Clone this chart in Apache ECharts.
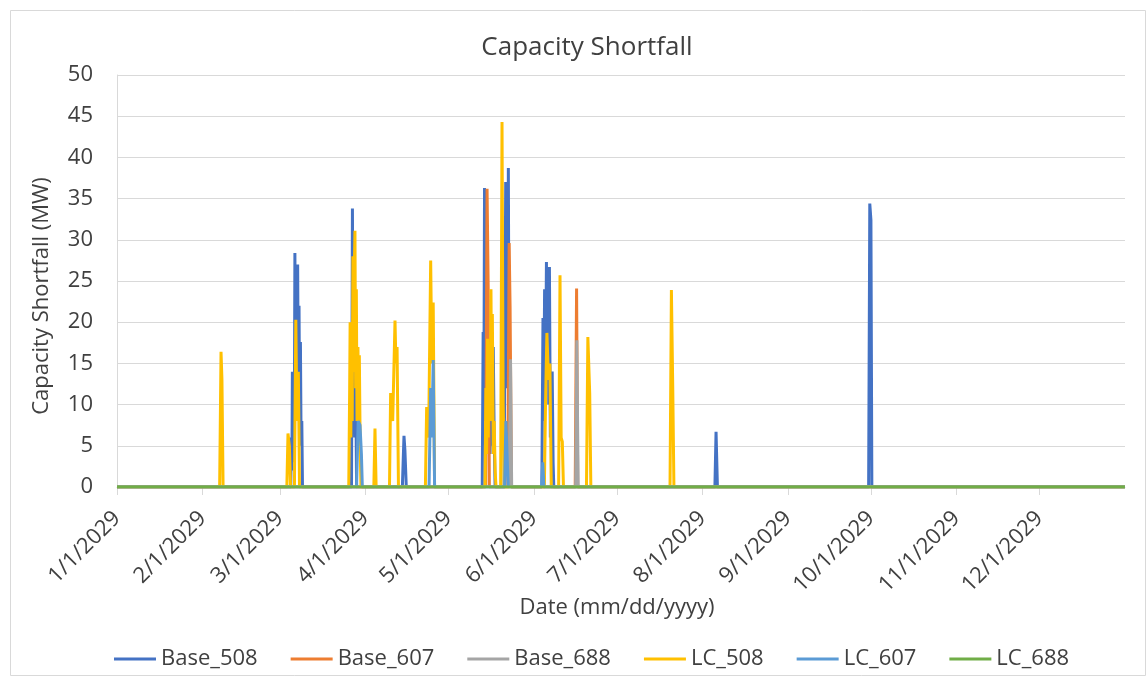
<!DOCTYPE html>
<html>
<head>
<meta charset="utf-8">
<script src="https://cdn.jsdelivr.net/npm/echarts@6/dist/echarts.min.js"></script>
<style>
html,body{margin:0;padding:0;background:#fff;}
#chart{width:1147px;height:677px;}
</style>
</head>
<body>
<div id="chart"></div>
<script>
// ---- Data ----
const seriesNames = ['Base_508', 'Base_607', 'Base_688', 'LC_508', 'LC_607', 'LC_688'];
const tickLabels = ['1/1/2029','2/1/2029','3/1/2029','4/1/2029','5/1/2029','6/1/2029','7/1/2029','8/1/2029','9/1/2029','10/1/2029','11/1/2029','12/1/2029'];
const yTicks = [0, 5, 10, 15, 20, 25, 30, 35, 40, 45, 50];

const base508 = [
  ['2029-01-01 00:00',0],
  ['2029-03-04 22:00',0],['2029-03-05 04:00',6],['2029-03-05 08:00',2],['2029-03-05 12:00',14],['2029-03-05 16:00',4],['2029-03-05 22:00',10],['2029-03-06 04:00',3],['2029-03-06 10:00',28.4],['2029-03-06 16:00',12],['2029-03-06 22:00',24],['2029-03-07 04:00',8],['2029-03-07 10:00',27],['2029-03-07 16:00',10],['2029-03-07 22:00',22],['2029-03-08 04:00',6],['2029-03-08 10:00',17.6],['2029-03-08 16:00',5],['2029-03-08 22:00',8],['2029-03-09 04:00',0],
  ['2029-03-26 22:00',0],['2029-03-27 06:00',33.8],['2029-03-27 12:00',10],['2029-03-27 18:00',26],['2029-03-28 02:00',6],['2029-03-28 10:00',14],['2029-03-28 18:00',0],
  ['2029-04-14 08:00',0],['2029-04-14 22:00',6.2],['2029-04-15 06:00',4.5],['2029-04-15 18:00',0],
  ['2029-05-13 06:00',0],['2029-05-13 14:00',18.8],['2029-05-13 20:00',8],['2029-05-14 02:00',36.3],['2029-05-14 08:00',14],['2029-05-14 14:00',34],['2029-05-14 20:00',10],['2029-05-15 02:00',30],['2029-05-15 10:00',6],['2029-05-15 18:00',14],['2029-05-16 02:00',4],['2029-05-16 12:00',12],['2029-05-16 20:00',5],['2029-05-17 06:00',17],['2029-05-17 14:00',6],['2029-05-17 22:00',0],
  ['2029-05-21 04:00',0],['2029-05-21 12:00',20],['2029-05-21 18:00',37],['2029-05-22 00:00',12],['2029-05-22 06:00',30],['2029-05-22 12:00',16],['2029-05-22 17:00',38.7],['2029-05-23 00:00',10],['2029-05-23 08:00',4],['2029-05-23 14:00',0],
  ['2029-06-03 20:00',0],['2029-06-04 06:00',20.5],['2029-06-04 12:00',8],['2029-06-04 20:00',24],['2029-06-05 04:00',12],['2029-06-05 12:00',27.3],['2029-06-05 18:00',14],['2029-06-06 02:00',25],['2029-06-06 08:00',10],['2029-06-06 14:00',26.7],['2029-06-06 22:00',6],['2029-06-07 06:00',12],['2029-06-07 14:00',14],['2029-06-07 22:00',3],['2029-06-08 04:00',0],
  ['2029-08-05 12:00',0],['2029-08-05 22:00',6.7],['2029-08-06 10:00',0],
  ['2029-09-30 04:00',0],['2029-09-30 14:00',34.4],['2029-10-01 00:00',32.4],['2029-10-01 08:00',0],
  ['2029-12-31 23:00',0]
];
const base607 = [
  ['2029-01-01 00:00',0],
  ['2029-05-14 12:00',0],['2029-05-15 00:00',36.2],['2029-05-15 10:00',24],['2029-05-15 20:00',0],
  ['2029-05-22 12:00',0],['2029-05-23 00:00',29.6],['2029-05-23 08:00',22],['2029-05-23 20:00',0],
  ['2029-06-15 22:00',0],['2029-06-16 10:00',24.1],['2029-06-16 20:00',0],
  ['2029-12-31 23:00',0]
];
const base688 = [
  ['2029-01-01 00:00',0],
  ['2029-05-23 00:00',0],['2029-05-23 12:00',15.5],['2029-05-23 22:00',0],
  ['2029-06-16 02:00',0],['2029-06-16 12:00',17.8],['2029-06-17 00:00',0],
  ['2029-12-31 23:00',0]
];
const lc508 = [
  ['2029-01-01 00:00',0],
  ['2029-02-07 04:00',0],['2029-02-07 16:00',16.4],['2029-02-08 00:00',13],['2029-02-08 10:00',0],
  ['2029-03-03 12:00',0],['2029-03-03 22:00',6.5],['2029-03-04 10:00',5],['2029-03-04 20:00',0],
  ['2029-03-06 06:00',0],['2029-03-06 18:00',20.3],['2029-03-07 04:00',8],['2029-03-07 16:00',14],['2029-03-08 02:00',0],
  ['2029-03-25 22:00',0],['2029-03-26 06:00',12],['2029-03-26 10:00',20],['2029-03-26 16:00',6],['2029-03-26 22:00',18],['2029-03-27 04:00',8],['2029-03-27 10:00',28],['2029-03-27 16:00',14],['2029-03-27 22:00',26],['2029-03-28 04:00',31.1],['2029-03-28 10:00',12],['2029-03-28 16:00',24],['2029-03-28 22:00',8],['2029-03-29 06:00',17],['2029-03-29 12:00',6],['2029-03-29 18:00',16],['2029-03-30 02:00',4],['2029-03-30 08:00',0],
  ['2029-04-04 00:00',0],['2029-04-04 10:00',7.1],['2029-04-04 20:00',0],
  ['2029-04-09 16:00',0],['2029-04-10 02:00',11.4],['2029-04-10 20:00',8],['2029-04-11 16:00',20.2],['2029-04-12 00:00',15],['2029-04-12 10:00',17],['2029-04-12 22:00',0],
  ['2029-04-22 16:00',0],['2029-04-23 03:00',9.7],['2029-04-23 20:00',6],['2029-04-24 14:00',27.5],['2029-04-25 00:00',15],['2029-04-25 12:00',22.4],['2029-04-26 00:00',0],
  ['2029-05-14 06:00',0],['2029-05-14 14:00',12],['2029-05-14 20:00',4],['2029-05-15 04:00',18],['2029-05-15 10:00',6],['2029-05-15 18:00',16],['2029-05-16 02:00',8],['2029-05-16 10:00',24],['2029-05-16 16:00',10],['2029-05-16 22:00',21],['2029-05-17 06:00',4],['2029-05-17 14:00',8],['2029-05-17 22:00',2],['2029-05-18 06:00',0],
  ['2029-05-19 22:00',0],['2029-05-20 10:00',44.3],['2029-05-20 20:00',10],['2029-05-21 06:00',0],
  ['2029-06-04 18:00',0],['2029-06-05 04:00',10],['2029-06-05 16:00',18.7],['2029-06-06 06:00',13],['2029-06-06 18:00',15],['2029-06-07 06:00',0],
  ['2029-06-09 22:00',0],['2029-06-10 10:00',25.7],['2029-06-10 20:00',6],['2029-06-11 06:00',5.5],['2029-06-11 16:00',0],
  ['2029-06-20 00:00',0],['2029-06-20 12:00',18.2],['2029-06-21 04:00',11.4],['2029-06-21 14:00',0],
  ['2029-07-20 06:00',0],['2029-07-20 18:00',23.9],['2029-07-21 06:00',11.8],['2029-07-21 16:00',0],
  ['2029-12-31 23:00',0]
];
const lc607 = [
  ['2029-01-01 00:00',0],
  ['2029-03-28 18:00',0],['2029-03-29 08:00',8],['2029-03-30 00:00',7.5],['2029-03-30 12:00',4],['2029-03-30 20:00',0],
  ['2029-04-24 00:00',0],['2029-04-24 14:00',12],['2029-04-25 00:00',6],['2029-04-25 12:00',15.4],['2029-04-26 00:00',0],
  ['2029-05-21 08:00',0],['2029-05-21 20:00',8],['2029-05-22 08:00',3],['2029-05-22 16:00',0],
  ['2029-06-03 18:00',0],['2029-06-04 04:00',3],['2029-06-04 14:00',0],
  ['2029-12-31 23:00',0]
];
const lc688 = [
  ['2029-01-01 00:00',0],
  ['2029-12-31 23:00',0]
];

const seriesData = [base508, base607, base688, lc508, lc607, lc688];
const seriesColors = ['#4472C4', '#ED7D31', '#A5A5A5', '#FFC000', '#5B9BD5', '#70AD47'];

// ---- helpers ----
function toMs(s) {
  const parts = s.split(' ');
  const d = parts[0].split('-').map(Number);
  const h = (parts[1] || '00:00').split(':').map(Number);
  return Date.UTC(d[0], d[1] - 1, d[2], h[0], h[1]);
}
function labelToMs(l) {
  const p = l.split('/').map(Number);
  return Date.UTC(p[2], p[0] - 1, p[1]);
}
const monthTicks = tickLabels.map(labelToMs);
const FONT = '"Open Sans", "Liberation Sans", sans-serif';
const TXT = '#404040';

const chart = echarts.init(document.getElementById('chart'), null, {renderer: 'canvas'});
const option = {
  animation: false,
  backgroundColor: '#ffffff',
  title: {
    text: 'Capacity Shortfall',
    left: 582, top: 30, textAlign: 'center',
    textStyle: {fontFamily: FONT, fontSize: 26, fontWeight: 'normal', color: TXT}
  },
  legend: {
    data: seriesNames,
    left: 109, top: 643,
    icon: 'rect',
    itemWidth: 42, itemHeight: 3, itemGap: 33,
    textStyle: {fontFamily: FONT, fontSize: 22, color: TXT}
  },
  grid: {left: 117, right: 22, top: 75, bottom: 190, containLabel: false},
  xAxis: {
    type: 'value',
    min: toMs('2029-01-01 00:00'),
    max: toMs('2030-01-01 00:00'),
    axisLine: {show: true, lineStyle: {color: '#D9D9D9', width: 1}},
    axisTick: {show: true, customValues: monthTicks, length: 8, lineStyle: {color: '#D9D9D9'}},
    axisLabel: {
      customValues: monthTicks,
      rotate: 45, margin: 28,
      fontFamily: FONT, fontSize: 22, color: TXT,
      formatter: function (v) { const i = monthTicks.indexOf(v); return i >= 0 ? tickLabels[i] : ''; }
    },
    splitLine: {show: false}
  },
  yAxis: {
    type: 'value', min: yTicks[0], max: yTicks[yTicks.length - 1], interval: 5,
    axisLine: {show: true, lineStyle: {color: '#D9D9D9'}},
    axisTick: {show: false},
    axisLabel: {margin: 24, fontFamily: FONT, fontSize: 22, color: TXT},
    splitLine: {show: true, lineStyle: {color: '#D9D9D9', width: 1}}
  },
  graphic: [
    {type: 'rect', silent: true, shape: {x: 10.5, y: 10.5, width: 1135, height: 665},
     style: {fill: 'none', stroke: '#D9D9D9', lineWidth: 1}},
    {type: 'text', x: 42, y: 296, rotation: Math.PI / 2,
     style: {text: 'Capacity Shortfall (MW)', fontFamily: FONT, fontSize: 22, fill: TXT, align: 'center', verticalAlign: 'middle'}},
    {type: 'text', x: 617, y: 608,
     style: {text: 'Date (mm/dd/yyyy)', fontFamily: FONT, fontSize: 22, fill: TXT, align: 'center', verticalAlign: 'middle'}}
  ],
  series: seriesNames.map(function (name, i) {
    return {
      name: name, type: 'line', symbol: 'none', showSymbol: false,
      color: seriesColors[i],
      lineStyle: {width: 3, color: seriesColors[i]},
      data: seriesData[i].map(function (p) { return [toMs(p[0]), p[1]]; }),
      z: 2 + i
    };
  })
};
chart.setOption(option);
</script>
</body>
</html>
